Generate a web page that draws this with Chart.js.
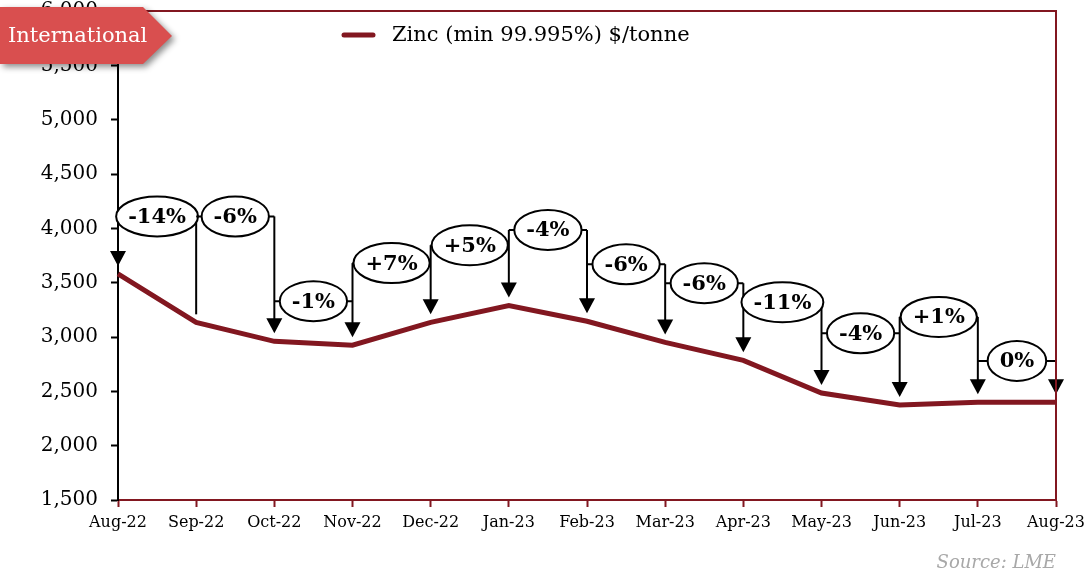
<!DOCTYPE html>
<html>
<head>
<meta charset="utf-8">
<script src="https://cdn.jsdelivr.net/npm/chart.js@4/dist/chart.umd.min.js"></script>
<style>
  body { margin: 0; background: #fff; }
  #wrap { width: 1086px; height: 577px; position: relative; }
</style>
</head>
<body>
<div id="wrap"><canvas id="zincchart"></canvas></div>
<script>
// months on the x axis
var months = ['Aug-22', 'Sep-22', 'Oct-22', 'Nov-22', 'Dec-22', 'Jan-23', 'Feb-23',
              'Mar-23', 'Apr-23', 'May-23', 'Jun-23', 'Jul-23', 'Aug-23'];
// LME zinc price, $/tonne
var zinc = [3580, 3135, 2960, 2925, 3135, 3290, 3145, 2950, 2785, 2485, 2375, 2400, 2400];
// month-on-month change labels, one per pair of months
var changeLabels = ['-14%', '-6%', '-1%', '+7%', '+5%', '-4%', '-6%', '-6%', '-11%', '-4%', '+1%', '0%'];
// level ($/tonne) where each change bubble sits
var bubbleLevel = [4110, 4110, 3330, 3680, 3845, 3985, 3670, 3495, 3320, 3035, 3185, 2780];
// which month lines end in an arrow head
var arrowAt = [1, 0, 1, 1, 1, 1, 1, 1, 1, 1, 1, 1, 1];
var yTicks = [1500, 2000, 2500, 3000, 3500, 4000, 4500, 5000, 5500, 6000];

var darkRed = '#821720';
var serif = '"DejaVu Serif", "Liberation Serif", serif';

var extrasPlugin = {
    id: 'extras',
    afterDatasetsDraw: function(chart) {
        var ctx = chart.ctx;
        var xs = chart.scales.x, ys = chart.scales.y;
        ctx.save();
        ctx.strokeStyle = '#000';
        ctx.fillStyle = '#000';
        ctx.lineWidth = 2;

        // vertical lines (with arrows) at every month
        for (var i = 0; i < months.length; i++) {
            var tops = [];
            if (i > 0) tops.push(bubbleLevel[i - 1]);
            if (i < bubbleLevel.length) tops.push(bubbleLevel[i]);
            var px = xs.getPixelForValue(i);
            var yTop = ys.getPixelForValue(Math.max.apply(null, tops));
            var yEnd = ys.getPixelForValue(zinc[i]) - 8;
            ctx.beginPath();
            ctx.moveTo(px, yTop);
            ctx.lineTo(px, arrowAt[i] ? yEnd - 12 : yEnd);
            ctx.stroke();
            if (arrowAt[i]) {
                ctx.beginPath();
                ctx.moveTo(px - 8, yEnd - 15);
                ctx.lineTo(px + 8, yEnd - 15);
                ctx.lineTo(px, yEnd);
                ctx.closePath();
                ctx.fill();
            }
        }

        // bubbles with the change labels
        ctx.font = 'bold 21px ' + serif;
        ctx.textAlign = 'center';
        ctx.textBaseline = 'middle';
        for (var k = 0; k < changeLabels.length; k++) {
            var x0 = xs.getPixelForValue(k), x1 = xs.getPixelForValue(k + 1);
            var cx = (x0 + x1) / 2;
            var cy = ys.getPixelForValue(bubbleLevel[k]);
            var rx = Math.min((ctx.measureText(changeLabels[k]).width + 24) / 2, (x1 - x0) / 2 + 2);
            var ry = 20;
            ctx.beginPath();
            ctx.moveTo(x0, cy); ctx.lineTo(cx - rx, cy);
            ctx.moveTo(cx + rx, cy); ctx.lineTo(x1, cy);
            ctx.stroke();
            ctx.beginPath();
            ctx.ellipse(cx, cy, rx, ry, 0, 0, Math.PI * 2);
            ctx.fillStyle = '#fff';
            ctx.fill();
            ctx.stroke();
            ctx.fillStyle = '#000';
            ctx.fillText(changeLabels[k], cx, cy + 1);
        }
        ctx.restore();
    },
    afterDraw: function(chart) {
        var ctx = chart.ctx;
        var a = chart.chartArea;
        ctx.save();

        // top and right frame
        ctx.strokeStyle = darkRed;
        ctx.lineWidth = 2;
        ctx.beginPath();
        ctx.moveTo(a.left, a.top);
        ctx.lineTo(a.right, a.top);
        ctx.lineTo(a.right, a.bottom);
        ctx.stroke();

        // legend
        ctx.lineWidth = 5;
        ctx.lineCap = 'round';
        ctx.beginPath();
        ctx.moveTo(344, 35);
        ctx.lineTo(373, 35);
        ctx.stroke();
        ctx.fillStyle = '#000';
        ctx.font = '21px ' + serif;
        ctx.textAlign = 'left';
        ctx.textBaseline = 'middle';
        ctx.fillText('Zinc (min 99.995%) $/tonne', 392, 36);

        // source note
        ctx.fillStyle = '#a8a8a8';
        ctx.font = 'italic 18px ' + serif;
        ctx.textAlign = 'right';
        ctx.fillText('Source: LME', a.right, 563);

        // "International" tag
        ctx.shadowColor = 'rgba(0,0,0,0.45)';
        ctx.shadowBlur = 6;
        ctx.shadowOffsetX = 3;
        ctx.shadowOffsetY = 3;
        ctx.fillStyle = '#d94f4f';
        ctx.beginPath();
        ctx.moveTo(0, 7);
        ctx.lineTo(143, 7);
        ctx.lineTo(172, 36);
        ctx.lineTo(143, 64);
        ctx.lineTo(0, 64);
        ctx.closePath();
        ctx.fill();
        ctx.shadowColor = 'transparent';
        ctx.fillStyle = '#fff';
        ctx.font = '21px ' + serif;
        ctx.textAlign = 'left';
        ctx.fillText('International', 8, 37);
        ctx.restore();
    }
};

var ctx = document.getElementById('zincchart');
var zincChart = new Chart(ctx, {
    type: 'line',
    data: {
        labels: months,
        datasets: [{
            label: 'Zinc (min 99.995%) $/tonne',
            data: zinc,
            borderColor: darkRed,
            borderWidth: 5,
            pointRadius: 0,
            tension: 0,
            fill: false
        }]
    },
    options: {
        responsive: true,
        maintainAspectRatio: false,
        animation: false,
        layout: { padding: { top: 11, right: 30, left: 0, bottom: 0 } },
        plugins: {
            legend: { display: false },
            tooltip: { enabled: false }
        },
        scales: {
            x: {
                grid: { drawOnChartArea: false, tickLength: 7, color: darkRed, tickWidth: 2 },
                border: { color: darkRed, width: 2 },
                ticks: { color: '#000', maxRotation: 0, autoSkip: false, padding: 6,
                         font: { family: serif, size: 16 } },
                afterFit: function(scale) {
                    scale.height = 77;
                    scale.paddingLeft = 0;
                    scale.paddingRight = 0;
                }
            },
            y: {
                min: 1500,
                max: 6000,
                afterBuildTicks: function(scale) {
                    scale.ticks = yTicks.map(function(v) { return { value: v }; });
                },
                grid: { drawOnChartArea: false, tickLength: 7, color: '#000', tickWidth: 2 },
                border: { color: '#000', width: 2 },
                ticks: {
                    color: '#000',
                    padding: 13,
                    font: { family: serif, size: 20 },
                    callback: function(v) { return v.toLocaleString('en-US'); }
                },
                afterFit: function(scale) {
                    scale.width = 118;
                    scale.paddingTop = 0;
                    scale.paddingBottom = 0;
                }
            }
        }
    },
    plugins: [extrasPlugin]
});
</script>
</body>
</html>
